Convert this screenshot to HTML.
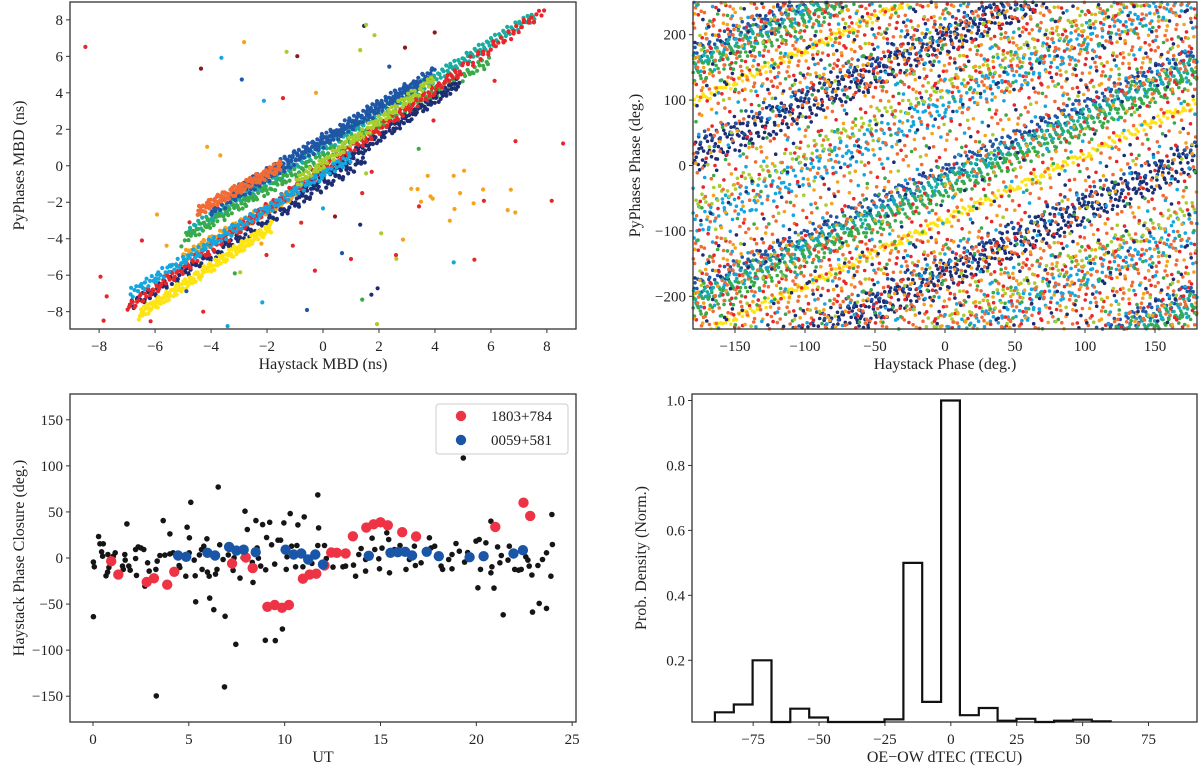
<!DOCTYPE html>
<html><head><meta charset="utf-8">
<style>
html,body{margin:0;padding:0;background:#fff;}
svg{display:block;font-family:"Liberation Serif","DejaVu Serif",serif;}
</style></head>
<body>
<svg id="fig" width="1200" height="771" viewBox="0 0 1200 771" xmlns="http://www.w3.org/2000/svg">
<rect x="0" y="0" width="1200" height="771" fill="#fff"/>
<g id="tl"></g>
<g id="tr"></g>
<g id="bl"></g>
<g id="br"></g>
</svg>
<script>
// ---------- palette ----------
const C = {navy:"#1d2d72", blue:"#1f56a6", lblue:"#14a6e0", teal:"#19ad9f", green:"#3aaa48", lime:"#a8cd2c",
           yellow:"#ffe414", orange:"#f7a21b", ored:"#f26b35", red:"#e8262a", dred:"#8b1a1a"};

// ---------- TL data: streaks [x0,y0,x1,y1], colors, counts ----------
const tlStreaks = [
 [-4.8,-3.6,7.6,8.3],[-5,-4,6,5.8],[-3,-1.3,4,5.2],[-4,-2.5,3.5,4.5],[-1,-1.6,4.9,4.6],
 [-6.9,-7.7,1.5,0.3],[-6.6,-8.2,-1.8,-3.3],[-5,-5,-1,-1.5],[-7,-7.8,5,5.3],[-6.9,-7,1,0.5],
 [-1,-1,4,4.8],[-4.5,-2.5,-1.5,0],[5,5.4,7.9,8.5]
];
const tlStreakColors = ["teal","green","blue","blue","navy","navy","yellow","orange","red","lblue","lime","ored","red"];
const tlStreakCounts = [260,200,170,150,150,160,170,120,260,160,110,110,40];
const tlOutX = [-8.49,-7.95,-6.47,-5.93,-4.14,-3.67,-4.36,-3.63,-2.9,-2.82,-2.11,-1.43,-1.3,-0.92,-0.25,1.47,1.54,1.84,1.33,2.37,2.93,3.99,3.95,3.42,6.5,6.13,6.88,8.58,8.17,3.38,3.15,3.74,4.67,5.04,4.9,5.38,5.72,5.75,6.71,6.6,6.87,4.53,4.7,3.84,3.92,3.43,3.5,2.86,2.61,2.62,2.08,4.67,5.41,1.0,0.68,1.33,0.43,0,1.4,1.74,1.54,-0.29,1.95,1.73,1.4,1.93,-0.57,-2.17,-3.41,-4.28,-6.16,-7.73,-7.84,-1.08,-2.02,-3.15,-2.96,-4.88,-5.59,-5.06,-4.77,-0.78,-2.2];
const tlOutY = [6.52,-6.08,-4.1,-2.67,1.04,0.57,5.33,5.92,4.73,6.78,3.56,3.71,6.25,6.01,4.0,7.67,7.73,7.16,6.34,5.44,6.48,7.31,2.48,0.93,6.85,4.66,1.35,1.22,-1.92,-1.28,-1.26,-0.55,-0.55,-0.27,-1.5,-2.06,-1.3,-1.92,-1.31,-2.43,-2.56,-3.01,-2.37,-1.68,-1.8,-2.23,-1.97,-4.05,-4.9,-5.1,-3.7,-5.3,-5.15,-5.11,-4.79,-3.23,-2.78,-2.34,-1.5,-0.33,-0.42,-5.75,-6.72,-7.07,-7.34,-8.68,-7.91,-7.49,-8.79,-8.0,-8.53,-7.16,-8.49,-4.38,-4.89,-5.9,-5.84,-6.88,-4.38,-4.42,-3.1,-3.12,-4.27];
const tlOutC = ["red","red","red","orange","orange","orange","dred","lblue","blue","orange","lblue","red","lime","dred","orange","navy","lime","lime","lime","blue","dred","dred","red","green","red","red","red","red","red","orange","orange","orange","orange","orange","orange","orange","orange","red","orange","orange","orange","orange","orange","orange","orange","red","orange","orange","red","lime","lime","lblue","red","red","blue","navy","dred","lblue","red","red","lime","red","navy","navy","green","lime","blue","lblue","lblue","red","red","red","red","red","red","green","lime","blue","orange","green","red","red","orange"];
const tlXTicks = [-8,-6,-4,-2,0,2,4,6,8];
const tlYTicks = [-8,-6,-4,-2,0,2,4,6,8];

// ---------- TR data: bands y = x + offset ----------
const trOffsets = [-8,-25,-42,-83,-168,-150,90,120,0,0,0,0,0,0,0];
const trSpreads = [14,14,14,7,24,18,24,14,250,250,250,250,250,250,250];
const trCounts  = [330,420,320,260,520,160,320,170,700,380,300,220,220,200,120];
const trColors  = ["blue","teal","green","yellow","navy","blue","lblue","lime","ored","red","orange","lblue","navy","green","lime"];
const trXTicks = [-150,-100,-50,0,50,100,150];
const trYTicks = [-200,-100,0,100,200];

// ---------- BL data ----------
const blackUT = [0.02,0.07,0.29,0.36,0.54,0.45,0.5,0.68,0.76,0.78,0.83,1.16,1.06,1.54,1.58,1.66,1.68,1.77,1.87,1.94,2.22,2.22,2.36,2.5,2.65,2.27,2.85,2.71,2.93,3.28,3.35,3.49,3.66,3.75,4.01,4.01,4.18,4.49,4.53,4.84,4.91,5.03,5.02,5.1,5.28,5.33,5.36,5.55,5.66,5.69,5.78,5.94,5.97,6.06,6.09,6.3,6.39,6.47,6.53,6.61,6.79,6.89,7.06,7.31,7.36,7.45,7.67,7.83,7.93,8.05,8.35,8.31,8.5,8.56,8.63,8.75,8.85,9.01,9.22,9.06,8.99,9.51,9.32,9.48,9.65,9.79,9.88,9.96,10.08,10.12,10.29,10.36,10.57,10.64,10.69,11.02,10.95,11.42,11.73,11.77,11.73,6.86,3.3,0.02,12.08,19.32,12.17,12.52,13.04,13.18,13.59,13.7,13.87,13.99,14.22,14.22,14.56,14.7,14.91,14.95,15.08,15.33,15.43,15.47,15.73,16.02,16.33,16.51,16.77,16.82,17.12,17.55,17.64,17.83,18.16,18.24,18.56,18.73,18.73,18.94,19.11,19.39,19.55,19.98,20.15,20.22,20.08,20.5,20.76,20.81,20.76,20.92,21.11,21.23,21.3,21.4,21.65,21.72,22.0,22.2,22.34,22.58,22.69,22.76,22.9,22.93,23.28,23.66,23.21,23.45,23.66,23.94,23.97,23.89];
const blackDeg = [-4.5,-9.5,23.3,15.4,15.4,6.7,2.0,-19.3,-15.3,3.8,-10.3,5.6,2.0,-8.8,-12.4,3.8,-2.3,37.0,-8.8,-13.2,-0.5,9.2,12.1,11.0,9.2,-18.9,-5.2,-30.5,-14.2,-12.4,-3.4,2.7,40.6,3.1,26.2,4.5,5.6,-8.1,-10.3,-19.7,33.4,21.9,5.6,60.5,-2.3,-19.3,-47.5,3.4,9.2,-12.4,12.8,20.8,-15.3,-19.7,-43.5,-56.1,-17.5,-12.4,77.1,14.3,-1.6,-63.3,3.4,-13.5,0.2,-93.7,-21.8,0.2,50.8,30.9,-26.5,-4.8,40.6,11.0,-0.2,-8.8,36.3,-12.8,38.8,22.2,-89.3,-89.7,14.3,-6.6,19.3,19.3,-77.1,38.1,-12.4,1.3,48.2,12.8,-9.5,13.6,35.9,44.6,-9.5,-5.9,68.5,32.7,13.6,-139.9,-149.7,-63.7,13.6,108.5,-0.5,-9.9,-9.5,-8.8,-7.7,-19.7,3.8,10.3,-1.6,-14.2,21.5,9.2,-0.9,-11.7,10.7,27.3,20.1,-16.1,9.2,13.6,-12.4,-1.6,12.8,-8.1,-5.2,21.9,11.0,12.8,-8.8,-12.4,-1.6,3.8,-11.7,15.7,7.4,-4.5,5.9,18.3,20.1,-12.4,-32.3,16.5,39.9,-9.5,-16.1,-32.7,12.1,-5.2,2.7,-61.6,-2.3,12.8,-12.4,-13.2,-12.4,1.3,-2.3,-8.8,-18.5,-58.7,-49.3,-54.7,-8.1,-1.6,5.6,47.2,14.6,-19.7];
const redUT  = [0.95,1.32,2.8,3.18,3.87,4.24,7.26,7.97,8.33,9.1,9.48,9.86,10.22,10.95,11.3,11.65,12.08,12.43,12.72,13.18,13.56,14.26,14.64,15.0,15.38,16.13,16.86,20.99,22.46,22.81];
const redDeg = [-3.5,-18,-26,-22,-29,-15,-6,0.5,-11,-53,-51,-54,-51,-22.5,-18,-17,-8,6,5.6,5,23.6,33,36.6,38.8,35.5,28,23.3,33.8,60,45.7];
const blueUT  = [4.44,4.86,5.97,6.37,7.1,7.48,7.86,8.49,10.05,10.47,10.87,11.23,11.6,12.0,14.39,15.52,15.9,16.29,16.65,17.41,18.04,19.65,20.38,21.94,22.43];
const blueDeg = [2.7,1.3,5.6,2.7,12,8,9,6.3,9,3.8,4.9,-1.6,3.8,-7,2.4,5.6,6.3,6.7,2.7,6.7,2,0.9,2,4.9,8.5];
const blXTicks = [0,5,10,15,20,25];
const blYTicks = [-150,-100,-50,0,50,100,150];

// ---------- BR data: histogram ----------
const binStart = -89.5, binWidth = 7.15;
const binHeights = [0.04,0.064,0.2,0,0.051,0.024,0,0,0,0.018,0.5,0.072,1.0,0.031,0.053,0.014,0.02,0,0.014,0.017,0.012];
const brXTicks = [-75,-50,-25,0,25,50,75];
const brYTicks = [0.2,0.4,0.6,0.8,1.0];

// ---------- helpers ----------
const NS = "http://www.w3.org/2000/svg";
function mk(parent, tag, attrs){ const e=document.createElementNS(NS,tag); for(const k in attrs) e.setAttribute(k,attrs[k]); parent.appendChild(e); return e; }
function fmt(v){ const s = (Math.round(v*100)/100).toString(); return v<0 ? "\u2212"+s.slice(1) : s; }
function halton(i,b){ let f=1,r=0; while(i>0){ f/=b; r+=f*(i%b); i=Math.floor(i/b);} return r; }
function axes(g, box, xlim, ylim, xt, yt, xlab, ylab, yfmt, ylabX){
  const sx = v => box.x0 + (v-xlim[0])/(xlim[1]-xlim[0])*(box.x1-box.x0);
  const sy = v => box.y1 - (v-ylim[0])/(ylim[1]-ylim[0])*(box.y1-box.y0);
  return {sx, sy, draw(){
    const fr = mk(g,"rect",{x:box.x0,y:box.y0,width:box.x1-box.x0,height:box.y1-box.y0,fill:"none",stroke:"#333",'stroke-width':1.3});
    
    
    xt.forEach(v=>{ const x=sx(v);
      const t=mk(g,"line",{x1:x,x2:x,y1:box.y1,y2:box.y1+4,stroke:"#333",'stroke-width':1});
      
      
      const l=mk(g,"text",{x:x,y:box.y1+22,'text-anchor':'middle','font-size':15,fill:"#222"}); l.textContent=(yfmt&&yfmt.x)?yfmt.x(v):fmt(v);
      
      
    });
    yt.forEach(v=>{ const y=sy(v);
      const t=mk(g,"line",{x1:box.x0-4,x2:box.x0,y1:y,y2:y,stroke:"#333",'stroke-width':1});
      
      
      const l=mk(g,"text",{x:box.x0-7,y:y+5,'text-anchor':'end','font-size':15,fill:"#222"}); l.textContent=(yfmt&&yfmt.y)?yfmt.y(v):fmt(v);
      
      
    });
    const xl=mk(g,"text",{x:(box.x0+box.x1)/2,y:box.y1+40,'text-anchor':'middle','font-size':16,fill:"#222"}); xl.textContent=xlab;
    
    
    const cy=(box.y0+box.y1)/2;
    const yl=mk(g,"text",{x:ylabX,y:cy,'text-anchor':'middle','font-size':16,fill:"#222",transform:`rotate(-90 ${ylabX} ${cy})`}); yl.textContent=ylab;
    
    
  }};
}
function dot(g,x,y,r,c,name){ const d=mk(g,"circle",{cx:x.toFixed(1),cy:y.toFixed(1),r:r,fill:c});
  
  
  return d; }

// ---------- TL ----------
(function(){
  const g=document.getElementById('tl');
  const box={x0:70,x1:576,y0:2,y1:329};
  const A=axes(g,box,[-9.04,9.04],[-8.95,8.98],tlXTicks,tlYTicks,"Haystack MBD (ns)","PyPhases MBD (ns)",null,24);
  const clip=mk(g,"g",{});
  let k=1;
  tlStreaks.forEach((s,i)=>{
    const n=tlStreakCounts[i], col=C[tlStreakColors[i]];
    for(let j=0;j<n;j++){
      const t=halton(k,2), w=halton(k,3)-0.5; k++;
      const x=s[0]+(s[2]-s[0])*t, y=s[1]+(s[3]-s[1])*t + w*0.6;
      dot(clip,A.sx(x),A.sy(y),2.1,col,'mbd-point');
    }
  });
  tlOutX.forEach((x,i)=>dot(clip,A.sx(x),A.sy(tlOutY[i]),2.1,C[tlOutC[i]],'mbd-outlier'));
  A.draw();
})();

// ---------- TR ----------
(function(){
  const g=document.getElementById('tr');
  const box={x0:693,x1:1197,y0:2,y1:329};
  const A=axes(g,box,[-180,180],[-250,250],trXTicks,trYTicks,"Haystack Phase (deg.)","PyPhases Phase (deg.)",null,640);
  let k=1;
  trOffsets.forEach((o,i)=>{
    const n=trCounts[i], col=C[trColors[i]], sp=trSpreads[i];
    for(let j=0;j<n;j++){
      const x=-180+360*halton(k,2), w=(halton(k,3)-0.5)*2*sp; k++;
      const base = sp>=200 ? w : x+o+w;
      [base-360,base,base+360].forEach(y=>{
        if(y>=-250 && y<=250) dot(g,A.sx(x),A.sy(y),1.8,col,'phase-point');
      });
    }
  });
  A.draw();
})();

// ---------- BL ----------
(function(){
  const g=document.getElementById('bl');
  const box={x0:70,x1:576,y0:394,y1:722};
  const A=axes(g,box,[-1.2,25.2],[-178,178],blXTicks,blYTicks,"UT","Haystack Phase Closure (deg.)",null,24);
  blackUT.forEach((u,i)=>dot(g,A.sx(u),A.sy(blackDeg[i]),2.8,"#151515",'closure-point'));
  redUT.forEach((u,i)=>dot(g,A.sx(u),A.sy(redDeg[i]),5.2,"#ee3344",'closure-point-1803'));
  blueUT.forEach((u,i)=>dot(g,A.sx(u),A.sy(blueDeg[i]),5.2,"#1a56a8",'closure-point-0059'));
  A.draw();
  const lg=mk(g,"g",{});  
  mk(lg,"rect",{x:436,y:404,width:132,height:50,rx:3,fill:"#fff",stroke:"#ccc",'stroke-width':1});
  const e1=mk(lg,"g",{});  
  mk(e1,"circle",{cx:461,cy:416,r:5.2,fill:"#ee3344"});
  const t1=mk(e1,"text",{x:491,y:421,'font-size':15,fill:"#222"}); t1.textContent="1803+784";
  const e2=mk(lg,"g",{});  
  mk(e2,"circle",{cx:461,cy:440,r:5.2,fill:"#1a56a8"});
  const t2=mk(e2,"text",{x:491,y:445,'font-size':15,fill:"#222"}); t2.textContent="0059+581";
})();

// ---------- BR ----------
(function(){
  const g=document.getElementById('br');
  const box={x0:692,x1:1197,y0:394,y1:722};
  const A=axes(g,box,[-98.2,93.4],[0.01,1.02],brXTicks,brYTicks,"OE\u2212OW dTEC (TECU)","Prob. Density (Norm.)",{y:v=>v.toFixed(1)},646);
  const by=v=>Math.min(box.y1, A.sy(v));
  let d=`M${A.sx(binStart).toFixed(1)},${box.y1}`;
  binHeights.forEach((h,i)=>{
    const x0=A.sx(binStart+i*binWidth), x1=A.sx(binStart+(i+1)*binWidth);
    d+=` L${x0.toFixed(1)},${by(h).toFixed(1)} L${x1.toFixed(1)},${by(h).toFixed(1)}`;
  });
  d+=` L${A.sx(binStart+binHeights.length*binWidth).toFixed(1)},${box.y1}`;
  A.draw();
  const p=mk(g,"path",{d:d,fill:"none",stroke:"#111",'stroke-width':2.2,'stroke-linejoin':'miter'});
  
  
})();
</script>
</body></html>
